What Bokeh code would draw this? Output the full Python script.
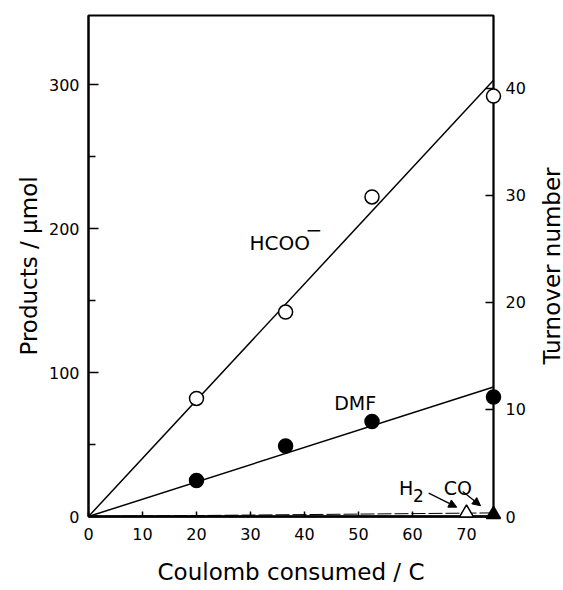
import math
from bokeh.plotting import figure
from bokeh.models import Range1d, LinearAxis, FixedTicker, Arrow, NormalHead, Label
from bokeh.core.properties import value
from bokeh.embed import file_html
from bokeh.resources import INLINE

# ---- data ----
coulomb_hcoo = [20, 36.5, 52.5, 75]
hcoo_umol = [82, 142, 222, 292]
coulomb_dmf = [20, 36.5, 52.5, 75]
dmf_umol = [25, 49, 66, 83]
coulomb_h2 = [70]
h2_umol = [2.5]
coulomb_co = [75]
co_umol = [1.5]
fit_x = [0, 75]
hcoo_fit = [0, 303]
dmf_fit = [0, 90]
gas_fit = [0, 2.5]

x_ticks = [0, 10, 20, 30, 40, 50, 60, 70]
y_ticks = [0, 100, 200, 300]
y_minor_ticks = [50, 150, 250]
turnover_ticks = [0, 10, 20, 30, 40]
umol_per_turnover = 7.435
x_max = 75
y_max = 348

FONT = "DejaVu Sans"

p = figure(width=563, height=590, output_backend="svg", toolbar_location=None,
           x_range=Range1d(0, x_max), y_range=Range1d(0, y_max),
           min_border_left=88, min_border_right=70, min_border_top=15, min_border_bottom=74)
p.extra_y_ranges = {"ton": Range1d(0, y_max / umol_per_turnover)}
p.xgrid.visible = False
p.ygrid.visible = False
p.background_fill_color = "white"
p.border_fill_color = "white"
p.outline_line_color = "black"
p.outline_line_width = 2

# bottom axis
xa = p.xaxis[0]
xa.ticker = FixedTicker(ticks=x_ticks)
xa.axis_label = "Coulomb consumed / C"
# left axis
ya = p.yaxis[0]
ya.ticker = FixedTicker(ticks=y_ticks, minor_ticks=y_minor_ticks)
ya.axis_label = "Products / μmol"
# right axis (its title is drawn as rotated text below)
ra = LinearAxis(y_range_name="ton", ticker=FixedTicker(ticks=turnover_ticks))
p.add_layout(ra, "right")

for ax in (xa, ya, ra):
    ax.axis_line_color = "black"
    ax.axis_line_width = 2
    ax.major_tick_out = 0
    ax.minor_tick_out = 0
    ax.major_tick_line_color = "black"
    ax.major_tick_line_width = 1.5
    ax.minor_tick_line_color = "black"
    ax.minor_tick_line_width = 1.5
    ax.major_label_text_font = FONT
    ax.major_label_text_font_size = "16px"
    ax.major_label_text_color = "black"
    ax.axis_label_text_font = FONT
    ax.axis_label_text_font_size = "23px"
    ax.axis_label_text_font_style = "normal"
    ax.axis_label_text_color = "black"

xa.major_tick_in = 5
xa.minor_tick_in = 0
xa.major_label_standoff = 11
xa.axis_label_standoff = 16
xa.axis_line_width = 2.5

ya.major_tick_in = 10
ya.minor_tick_in = 7
ya.major_label_standoff = 9
ya.axis_label_standoff = 4

ra.major_tick_in = 8
ra.minor_tick_in = 0
ra.major_label_standoff = 12
ra.axis_line_width = 1.5

# right-hand axis title, reading bottom to top
rt = p.text(x=[x_max], y=[y_max / 2], text=["Turnover number"], angle=math.pi / 2,
            x_offset=58, text_align="center", text_baseline="middle",
            text_font=value(FONT), text_font_size=value("23px"), text_color="black")
rt.level = "overlay"

# fit lines
p.line(fit_x, hcoo_fit, line_color="black", line_width=1.5)
p.line(fit_x, dmf_fit, line_color="black", line_width=1.5)
p.line(fit_x, gas_fit, line_color="black", line_width=1, line_dash="14 3")

# points
r1 = p.scatter(coulomb_hcoo, hcoo_umol, marker="circle", size=14, fill_color="white",
               line_color="black", line_width=1.5)
r2 = p.scatter(coulomb_dmf, dmf_umol, marker="circle", size=14, fill_color="black",
               line_color="black", line_width=1.5)
r3 = p.scatter(coulomb_h2, h2_umol, marker="triangle", size=14, fill_color="white",
               line_color="black", line_width=1.5)
r4 = p.scatter(coulomb_co, co_umol, marker="triangle", size=14, fill_color="black",
               line_color="black", line_width=1.5)
for r in (r1, r2, r3, r4):
    r.level = "overlay"

def lab(x, y, text, size, **kw):
    p.add_layout(Label(x=x, y=y, text=text, text_font=FONT, text_font_size=size,
                       text_baseline="alphabetic", text_color="black", **kw))

# labels
lab(29.8, 190, "HCOO", "20px")
lab(29.8, 190, "−", "20px", x_offset=56, y_offset=13)
lab(45.5, 79, "DMF", "19px")
lab(57.5, 20, "H", "19px")
lab(57.5, 20, "2", "17px", x_offset=14, y_offset=-8)
lab(65.8, 20, "CO", "19px")

p.add_layout(Arrow(x_start=63.0, y_start=16.2, x_end=68.2, y_end=6.5, line_width=1.3,
                   end=NormalHead(size=8, fill_color="black", line_color="black")))
p.add_layout(Arrow(x_start=69.3, y_start=17.3, x_end=72.6, y_end=7.5, line_width=1.3,
                   end=NormalHead(size=8, fill_color="black", line_color="black")))

open("out.html", "w").write(file_html(p, INLINE))
